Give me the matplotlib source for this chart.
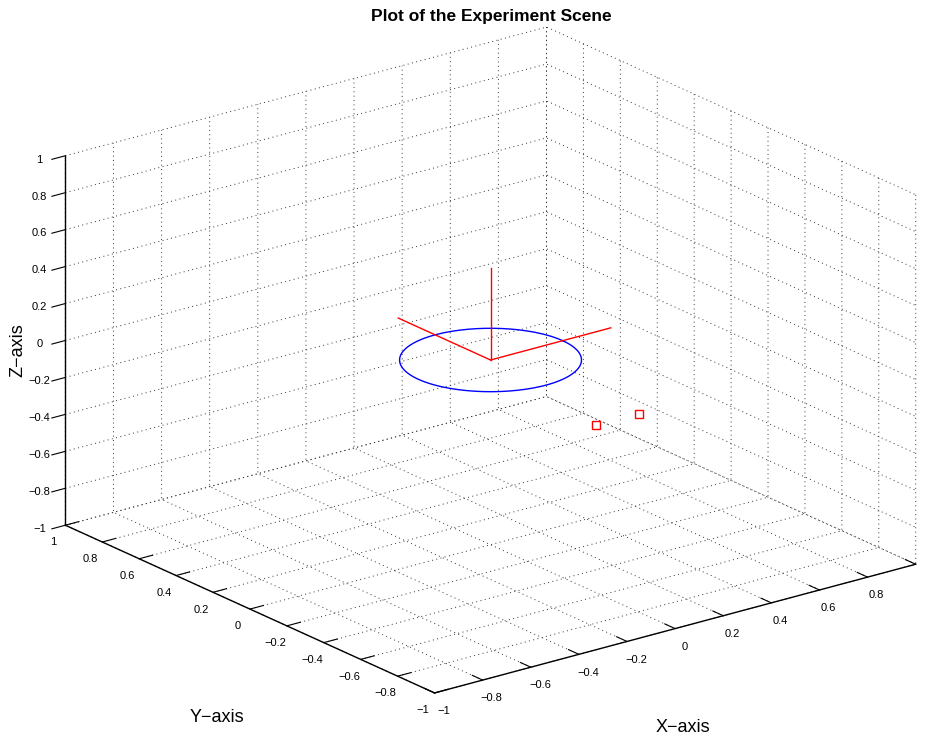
import numpy as np
import matplotlib
matplotlib.use('Agg')
from matplotlib import pyplot as plt

plt.rcParams['font.family'] = ['Liberation Sans', 'DejaVu Sans']
plt.rcParams['grid.linestyle'] = (0, (1, 3.5))
plt.rcParams['grid.color'] = '#333333'
plt.rcParams['grid.linewidth'] = 0.7
plt.rcParams['axes.unicode_minus'] = True

# scene data
circle_radius = 0.3
circle_z = 0.0
frame_origin = [0.0, 0.0, 0.0]
frame_x_end = [0.5, 0.0, 0.0]
frame_y_end = [0.0, 0.5, 0.0]
frame_z_end = [0.0, 0.0, 0.5]
marker_x = [-0.1, 0.08]
marker_y = [-0.7, -0.7]
marker_z = [0.0, 0.0]

ticks = [-1, -0.8, -0.6, -0.4, -0.2, 0, 0.2, 0.4, 0.6, 0.8, 1]
tick_labels = ['\u22121', '\u22120.8', '\u22120.6', '\u22120.4', '\u22120.2', '0',
               '0.2', '0.4', '0.6', '0.8', '1']
# the last x label falls outside the figure in the original
x_tick_labels = tick_labels[:-1] + ['']

fig = plt.figure(figsize=(9.25, 7.42), dpi=100)
ax = fig.add_axes([0.02, 0.027, 1.0, 0.95], projection='3d')
ax.set_proj_type('ortho')
ax.view_init(elev=20.4, azim=-127.5)
ax.set_box_aspect((1, 1, 0.65), zoom=1.3)

# circle in the xy plane
t = np.linspace(0, 2 * np.pi, 200)
ax.plot(circle_radius * np.cos(t), circle_radius * np.sin(t), circle_z, color='blue', lw=1)

# coordinate frame
for end in [frame_x_end, frame_y_end, frame_z_end]:
    ax.plot([frame_origin[0], end[0]], [frame_origin[1], end[1]], [frame_origin[2], end[2]],
            color='red', lw=1)

ax.plot(marker_x, marker_y, marker_z, ls='none', marker='s', ms=5.5, mfc='none', mec='red', mew=1)

ax.set_xlim(-1, 1)
ax.set_ylim(-1, 1)
ax.set_zlim(-1, 1)
for axis, labels in [(ax.xaxis, x_tick_labels), (ax.yaxis, tick_labels), (ax.zaxis, tick_labels)]:
    axis.set_ticks(ticks)
    axis.set_ticklabels(labels, fontsize=8)
    axis.pane.fill = False
    axis.pane.set_edgecolor('none')
    axis.line.set_color('black')
    axis.line.set_linewidth(1)
    axis._axinfo['tick']['inward_factor'] = 0.0
    axis._axinfo['tick']['outward_factor'] = 0.35
ax.zaxis._axinfo['tick']['inward_factor'] = 0.35
ax.zaxis._axinfo['tick']['outward_factor'] = 0.0
ax.xaxis.set_tick_params(pad=-1.5)
ax.yaxis.set_tick_params(pad=-1.5)
ax.zaxis.set_tick_params(pad=0)

fig.text(683 / 925, 1 - 727 / 742, 'X\u2212axis', fontsize=13, ha='center', va='center')
fig.text(217 / 925, 1 - 717 / 742, 'Y\u2212axis', fontsize=13, ha='center', va='center')
fig.text(18 / 925, 1 - 350 / 742, 'Z\u2212axis', fontsize=13, ha='center', va='center',
         rotation=90)
fig.text(491 / 925, 1 - 16 / 742, 'Plot of the Experiment Scene', fontsize=12.5,
         fontweight='bold', ha='center', va='center')

fig.savefig('out.png', dpi=100)
